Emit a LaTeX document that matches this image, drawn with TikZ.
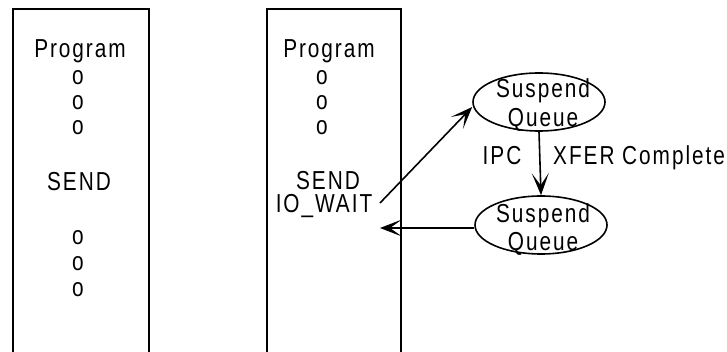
\documentclass[tikz,border=0pt]{standalone}
\usepackage{fontspec}
\setmainfont{Liberation Sans}[FakeStretch=0.8,LetterSpace=7.5]
\usetikzlibrary{arrows.meta,shapes.geometric}
\begin{document}
\begin{tikzpicture}[x=1pt,y=-1pt,
  every node/.style={inner sep=0pt,font=\fontsize{26}{29}\selectfont},
  txt/.style={anchor=base},
  line/.style={line width=1.6pt},
  queue/.style={ellipse,draw,line width=1.6pt,minimum width=132pt,minimum height=58pt},
  arr/.style={line width=1.6pt,-{Stealth[length=22pt,width=17pt,inset=12pt]}}]
\useasboundingbox (0,0) rectangle (727,352);
% program boxes, open at the bottom edge
\draw[line] (13,352) -- (13,9) -- (149,9) -- (149,352);
\draw[line] (267,352) -- (267,9) -- (401,9) -- (401,352);
% first program listing
\node[txt] (p1) at (80,58) {Program};
\node[txt] (a1) at (78,85) {o};
\node[txt] (a2) at (78,110) {o};
\node[txt] (a3) at (78,135) {o};
\node[txt] (s1) at (79,191) {SEND};
\node[txt] (b1) at (78,245) {o};
\node[txt] (b2) at (78,270) {o};
\node[txt] (b3) at (78,296) {o};
% second program listing
\node[txt] (p2) at (329,58) {Program};
\node[txt] (c1) at (322,85) {o};
\node[txt] (c2) at (322,110) {o};
\node[txt] (c3) at (322,135) {o};
\node[txt] (s2) at (328,190) {SEND};
\node[txt] (w2) at (324,213) {IO\_WAIT};
% suspend queues
\node[queue] (q1) at (539,102) {};
\node[txt] (q1a) at (543,98) {Suspend};
\node[txt] (q1b) at (543,127) {Queue};
\node[queue] (q2) at (541,225) {};
\node[txt] (q2a) at (543,223) {Suspend};
\node[txt] (q2b) at (543,251) {Queue};
% transition labels
\node[txt] (ipc) at (502,165) {IPC};
\node[txt,anchor=base west] (xf) at (553,165) {XFER Complete};
% connectors
\coordinate (wend) at (380,203);
\coordinate (ret) at (380,228);
\draw[arr] (wend) -- (q1.west |- 0,107);
\draw[arr] (q1.south) -- (q2.north);
\draw[arr] (q2.west |- 0,228) -- (ret);
\end{tikzpicture}
\end{document}
